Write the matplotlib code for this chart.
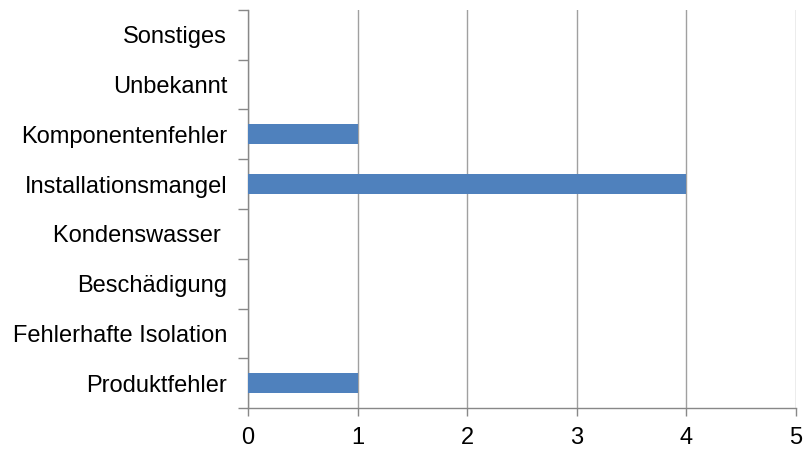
import matplotlib.pyplot as plt

# Data
categories = [
    "Produktfehler", "Fehlerhafte Isolation", "Beschädigung", "Kondenswasser ",
    "Installationsmangel", "Komponentenfehler", "Unbekannt", "Sonstiges"
]
counts = [1, 0, 0, 0, 4, 1, 0, 0]
x_ticks = [0, 1, 2, 3, 4, 5]

plt.rcParams['font.family'] = ['Liberation Sans', 'DejaVu Sans']

fig = plt.figure(figsize=(8.06, 4.5), dpi=100)
ax = fig.add_axes([0.3077, 0.0933, 0.68, 0.8845])

pos = list(range(len(categories)))
ax.barh(pos, counts, height=0.4, color='#4F81BD', zorder=3)

ax.set_xlim(0, 5)
ax.set_ylim(-0.5, len(categories) - 0.5)
ax.set_xticks(x_ticks)
ax.set_xticklabels([str(t) for t in x_ticks], fontsize=17)

# category labels centred, ticks at the boundaries
ax.set_yticks(pos)
ax.set_yticklabels(categories, fontsize=17)
ax.tick_params(axis='y', which='major', length=0, pad=15)
ax.set_yticks([p - 0.5 for p in pos] + [len(categories) - 0.5], minor=True)
ax.tick_params(axis='y', which='minor', length=7, color='#888888', width=1)
ax.tick_params(axis='x', length=6, color='#888888', width=1, pad=8)

ax.grid(axis='x', color='#a0a0a0', linewidth=1, zorder=0)
for side in ['top', 'right']:
    ax.spines[side].set_visible(False)
for side in ['left', 'bottom']:
    ax.spines[side].set_color('#888888')
    ax.spines[side].set_linewidth(1)

fig.savefig('out.png', dpi=100)
